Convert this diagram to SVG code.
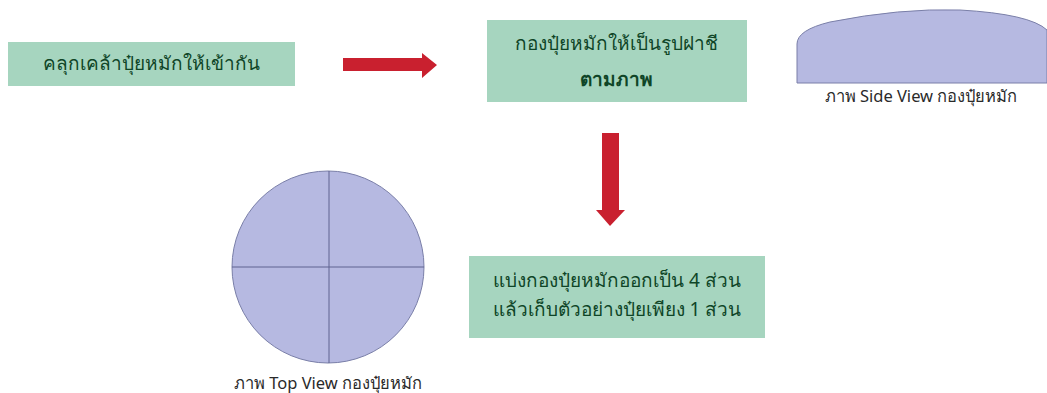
<svg xmlns="http://www.w3.org/2000/svg" width="1047" height="393" viewBox="0 0 1047 393">
<style>
.box{fill:#a6d5bf;}
.bt{font-family:"Noto Sans","DejaVu Sans",sans-serif;font-size:19px;fill:#0f4527;text-anchor:middle;}
.lbl{font-family:"Noto Sans","DejaVu Sans",sans-serif;font-size:16.5px;fill:#2a2a2a;text-anchor:middle;}
.arr{fill:#c9202f;}
.shape{fill:#b6b9e1;stroke:#7a7fa8;stroke-width:1;}
.div{stroke:#5e6390;stroke-width:1;}
</style>
<rect width="1047" height="393" fill="#ffffff"/>
<g id="node-mix">
<rect class="box" x="8" y="42" width="287" height="44"/>
<text class="bt" x="151" y="70">คลุกเคล้าปุ๋ยหมักให้เข้ากัน</text>
</g>
<g id="node-pile">
<rect class="box" x="487" y="20" width="260" height="82"/>
<text class="bt" x="616" y="50">กองปุ๋ยหมักให้เป็นรูปฝาชี</text>
<text class="bt" x="616" y="86" font-weight="bold">ตามภาพ</text>
</g>
<g id="node-side">
<path class="shape" d="M797,83 L797,44 Q797,30 830,22 Q900,8 960,10 Q1030,14 1047,30 L1047,83 Z"/>
<text class="lbl" x="921" y="102">ภาพ Side View กองปุ๋ยหมัก</text>
</g>
<g id="node-top">
<circle class="shape" cx="328" cy="267" r="96"/>
<line class="div" x1="232" y1="267" x2="424" y2="267"/>
<line class="div" x1="329" y1="171" x2="329" y2="363"/>
<text class="lbl" x="328" y="389">ภาพ Top View กองปุ๋ยหมัก</text>
</g>
<g id="node-split">
<rect class="box" x="469" y="256" width="296" height="82"/>
<text class="bt" x="617" y="287">แบ่งกองปุ๋ยหมักออกเป็น 4 ส่วน</text>
<text class="bt" x="617" y="316">แล้วเก็บตัวอย่างปุ๋ยเพียง 1 ส่วน</text>
</g>
<g id="connectors">
<polygon class="arr" points="343,58 422,58 422,53 437,65 422,78 422,71 343,71"/>
<polygon class="arr" points="602,133 619,133 619,210 625,210 610,226 596,210 602,210"/>
</g>
</svg>
